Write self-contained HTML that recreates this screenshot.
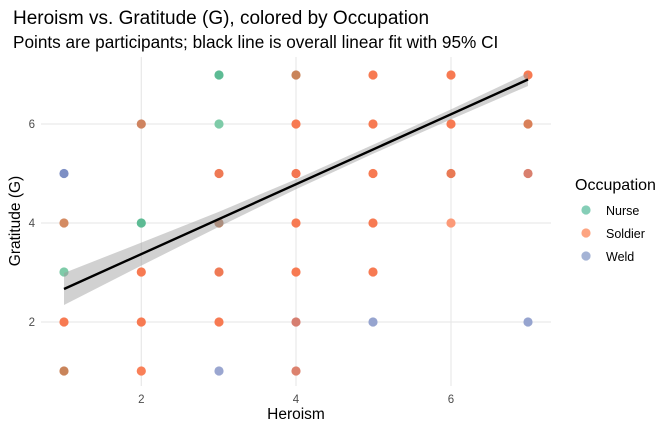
<!DOCTYPE html>
<html><head><meta charset="utf-8"><style>body{margin:0;background:#fff}svg{display:block}text{font-family:"Liberation Sans",sans-serif}</style></head>
<body>
<svg width="672" height="432" viewBox="0 0 672 432">
<rect width="672" height="432" fill="#fff"/>
<g stroke="#e6e6e6" stroke-width="1.1">
<line x1="141.3" y1="57" x2="141.3" y2="386"/><line x1="296" y1="57" x2="296" y2="386"/><line x1="451" y1="57" x2="451" y2="386"/>
<line x1="41" y1="124" x2="551" y2="124"/><line x1="41" y1="223" x2="551" y2="223"/><line x1="41" y1="322" x2="551" y2="322"/>
</g>
<g id="pts">
<circle cx="64" cy="173.5" r="4.6" fill="#7d8fc4"/>
<circle cx="64" cy="223" r="4.6" fill="#d48b62"/>
<circle cx="64" cy="272" r="4.6" fill="#7ecba8"/>
<circle cx="64" cy="322" r="4.6" fill="#f77a52"/>
<circle cx="64" cy="371" r="4.6" fill="#c9845a"/>
<circle cx="141.3" cy="124" r="4.6" fill="#cf8460"/>
<circle cx="141.3" cy="223" r="4.6" fill="#5dbb94"/>
<circle cx="141.3" cy="272" r="4.6" fill="#f77a52"/>
<circle cx="141.3" cy="322" r="4.6" fill="#f77a52"/>
<circle cx="141.3" cy="371" r="4.6" fill="#f98058"/>
<circle cx="219" cy="75" r="4.6" fill="#5dbb94"/>
<circle cx="219" cy="124" r="4.6" fill="#7ecba8"/>
<circle cx="219" cy="173.5" r="4.6" fill="#ef7a55"/>
<circle cx="219" cy="223" r="4.6" fill="#b9866a"/>
<circle cx="219" cy="272" r="4.6" fill="#ef7a55"/>
<circle cx="219" cy="322" r="4.6" fill="#f77a52"/>
<circle cx="219" cy="371" r="4.6" fill="#9aa6d0"/>
<circle cx="296" cy="75" r="4.6" fill="#c9845a"/>
<circle cx="296" cy="124" r="4.6" fill="#f77a52"/>
<circle cx="296" cy="173.5" r="4.6" fill="#f37550"/>
<circle cx="296" cy="223" r="4.6" fill="#f77a52"/>
<circle cx="296" cy="272" r="4.6" fill="#f77a52"/>
<circle cx="296" cy="322" r="4.6" fill="#d67e70"/>
<circle cx="296" cy="371" r="4.6" fill="#dc826e"/>
<circle cx="373" cy="75" r="4.6" fill="#f77a52"/>
<circle cx="373" cy="124" r="4.6" fill="#f77a52"/>
<circle cx="373" cy="173.5" r="4.6" fill="#f77a52"/>
<circle cx="373" cy="223" r="4.6" fill="#f77a52"/>
<circle cx="373" cy="272" r="4.6" fill="#f77a52"/>
<circle cx="373" cy="322" r="4.6" fill="#96a4cf"/>
<circle cx="451" cy="75" r="4.6" fill="#f77a52"/>
<circle cx="451" cy="124" r="4.6" fill="#f77a52"/>
<circle cx="451" cy="173.5" r="4.6" fill="#e97a55"/>
<circle cx="451" cy="223" r="4.6" fill="#fc9a78"/>
<circle cx="528" cy="75" r="4.6" fill="#f77a52"/>
<circle cx="528" cy="124" r="4.6" fill="#d98058"/>
<circle cx="528" cy="173.5" r="4.6" fill="#d9806e"/>
<circle cx="528" cy="322" r="4.6" fill="#96a4cf"/>
</g>
<path d="M64,273 L141.3,242.6 L219,211.7 L296,179.2 L373,144.8 L451,109.4 L528,73 L528,86 L451,119.4 L373,153.8 L296,189.2 L219,226.7 L141.3,265.6 L64,305 Z" fill="#999" fill-opacity="0.45"/>
<line x1="64" y1="289" x2="528" y2="79.5" stroke="#000" stroke-width="2.4"/>
<g font-size="11.5" fill="#4d4d4d" text-anchor="middle">
<text x="141.3" y="403">2</text><text x="296" y="403">4</text><text x="451" y="403">6</text>
<text x="35" y="128" text-anchor="end">6</text><text x="35" y="227" text-anchor="end">4</text><text x="35" y="326" text-anchor="end">2</text>
</g>
<text x="296" y="419" font-size="15.5" text-anchor="middle" fill="#000">Heroism</text>
<text transform="translate(20,221) rotate(-90)" font-size="15.5" text-anchor="middle" fill="#000">Gratitude (G)</text>
<text x="13" y="24" font-size="19" fill="#000">Heroism vs. Gratitude (G), colored by Occupation</text>
<text x="13" y="48" font-size="17.2" fill="#000">Points are participants; black line is overall linear fit with 95% CI</text>
<text x="575" y="190" font-size="16" fill="#000">Occupation</text>
<circle cx="586" cy="210" r="4.6" fill="#66c2a5" fill-opacity="0.8"/>
<circle cx="586" cy="233" r="4.6" fill="#fc8d62" fill-opacity="0.8"/>
<circle cx="586" cy="256" r="4.6" fill="#8da0cb" fill-opacity="0.8"/>
<g font-size="12.5" fill="#000"><text x="606" y="215">Nurse</text><text x="606" y="238">Soldier</text><text x="606" y="261">Weld</text></g>
</svg>
</body></html>
